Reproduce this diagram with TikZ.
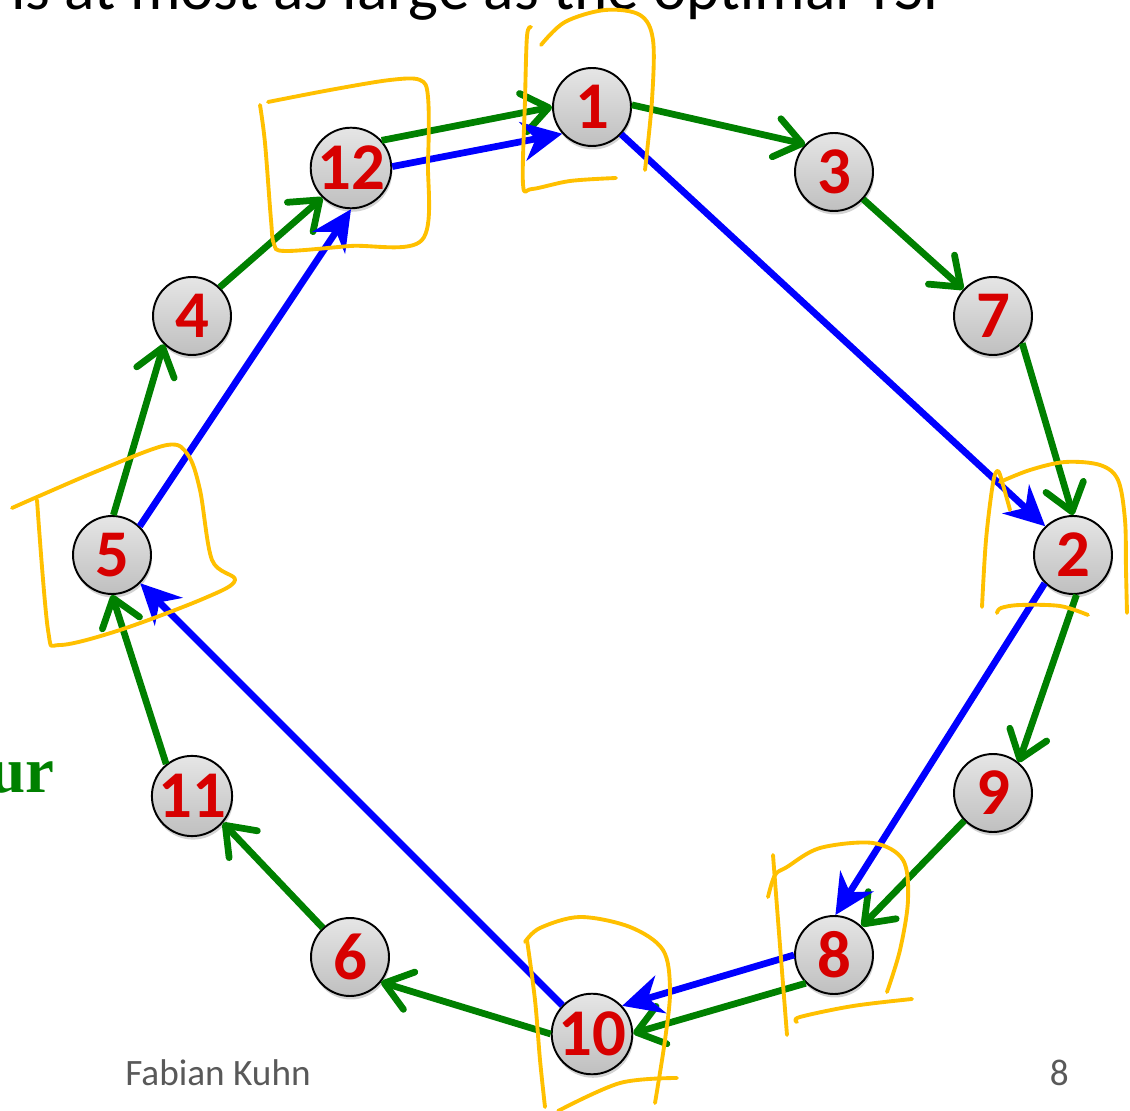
\documentclass[tikz,border=0pt]{standalone}
\usepackage{fontspec}
\setmainfont{Carlito}
\newfontfamily\tourfont{Liberation Serif}
\usetikzlibrary{arrows.meta,shadows}
\definecolor{tgreen}{RGB}{0,128,0}
\definecolor{tblue}{RGB}{0,0,255}
\definecolor{tred}{RGB}{215,0,0}
\definecolor{hyel}{RGB}{255,192,0}
\definecolor{fgray}{RGB}{89,89,89}
\tikzset{
  vtx/.style={circle, draw=black, line width=1.1pt, minimum size=1.56cm, inner sep=0pt,
    top color=white!90!black, bottom color=white!75!black,
    drop shadow={shadow xshift=0.02cm, shadow yshift=-0.07cm, opacity=0.35},
    text=tred, font=\fontsize{38}{38}\selectfont\bfseries},
  tourarc/.style={draw=tgreen, line width=0.135cm,
    -{Straight Barb[length=0.52cm, width=0.78cm, line cap=round, line join=round]}},
  mstarc/.style={draw=tblue, line width=0.135cm,
    -{Stealth[length=0.8cm, width=0.78cm, inset=0.26cm]}},
  scribble/.style={draw=hyel, line width=2.2pt, line cap=round, line join=round}
}
\begin{document}
\begin{tikzpicture}[x=0.02cm, y=-0.02cm]
\useasboundingbox (0,0) rectangle (1130,1111);
% texts
\node[anchor=base west, inner sep=0pt, font=\fontsize{36}{36}\selectfont] (title) at (11,10) {is at most as large as the optimal TSP};
\node[anchor=base east, inner sep=0pt, text=tgreen, font=\tourfont\bfseries\fontsize{37}{37}\selectfont] (tour) at (55,792) {ur};
\node[anchor=base west, inner sep=0pt, text=fgray, font=\fontsize{21.2}{21.2}\selectfont] (author) at (125,1085) {Fabian Kuhn};
\node[anchor=base east, inner sep=0pt, text=fgray, font=\fontsize{21.2}{21.2}\selectfont] (page) at (1069,1085) {8};
% vertices
\node[vtx] (n1) at (592,107) {1};
\node[vtx] (n3) at (834,172) {3};
\node[vtx] (n7) at (993,316) {7};
\node[vtx] (n2) at (1073,555) {2};
\node[vtx] (n9) at (993,793) {9};
\node[vtx] (n8) at (834,955) {8};
\node[vtx] (n10) at (592,1034) {10};
\node[vtx] (n6) at (350,957) {6};
\node[vtx] (n11) at (192,796) {11};
\node[vtx] (n5) at (112,555) {5};
\node[vtx] (n4) at (192,316) {4};
\node[vtx] (n12) at (351,168) {12};
% tour (green)
\draw[tourarc] (n12.42) -- (n1.180);
\draw[tourarc] (n1.3) -- (n3.136);
\draw[tourarc] (n3.-43) -- (n7.138);
\draw[tourarc] (n7.-43) -- (n2.90);
\draw[tourarc] (n2.-85) -- (n9.50);
\draw[tourarc] (n9.224) -- (n8.46);
\draw[tourarc] (n8.225) -- (n10.1);
\draw[tourarc] (n10.180) -- (n6.-39);
\draw[tourarc] (n6.133) -- (n11.-41);
\draw[tourarc] (n11.129) -- (n5.-90);
\draw[tourarc] (n5.88) -- (n4.225);
\draw[tourarc] (n4.46) -- (n12.226);
% blue
\draw[mstarc] (n12.2) -- (n1.222);
\draw[mstarc] (n1.-43) -- (n2.134);
\draw[mstarc] (n2.-135) -- (n8.88);
\draw[mstarc] (n8.180) -- (n10.43);
\draw[mstarc] (n10.136) -- (n5.-45);
\draw[mstarc] (n5.46) -- (n12.-90);
% yellow scribbles
\draw[scribble] plot[smooth, tension=0.55] coordinates {(531,27) (527,36) (525,100) (523,184) (532,189) (570,181) (616,178)};
\draw[scribble] plot[smooth, tension=0.55] coordinates {(541,45) (565,22) (605,10) (640,15) (653,40) (652,100) (645,170)};
\draw[scribble] plot[smooth, tension=0.55] coordinates {(268,102) (330,90) (390,80) (420,80) (428,97) (428,160) (422,240) (350,246) (285,251) (274,244) (271,220) (265,143) (260,105)};
\draw[scribble] plot[smooth, tension=0.55] coordinates {(12,508) (37,497) (100,470) (167,445) (188,455) (200,490) (212,560) (235,580) (205,598) (120,630) (60,645) (48,630) (37,500)};
\draw[scribble] plot[smooth, tension=0.55] coordinates {(982,607) (986,540) (993,483) (998,471) (1003,485) (1010,510)};
\draw[scribble] plot[smooth, tension=0.55] coordinates {(1000,482) (1030,470) (1065,462) (1100,465) (1118,480) (1125,520) (1126,570) (1127,613)};
\draw[scribble] plot[smooth, tension=0.55] coordinates {(997,613) (1001,608) (1020,605) (1060,606) (1088,615)};
\draw[scribble] plot[smooth, tension=0.55] coordinates {(773,855) (778,920) (787,1035)};
\draw[scribble] plot[smooth, tension=0.55] coordinates {(768,897) (775,875) (787,867) (820,848) (873,843) (903,860) (908,900) (900,950) (887,992)};
\draw[scribble] plot[smooth, tension=0.55] coordinates {(797,1022) (800,1017) (853,1006) (912,999)};
\draw[scribble] plot[smooth, tension=0.55] coordinates {(527,940) (535,1000) (540,1060) (545,1107)};
\draw[scribble] plot[smooth, tension=0.55] coordinates {(525,942) (540,928) (580,917) (630,927) (663,950) (670,990) (665,1040) (655,1103)};
\draw[scribble] plot[smooth, tension=0.55] coordinates {(558,1111) (620,1083) (677,1078)};
\end{tikzpicture}
\end{document}
